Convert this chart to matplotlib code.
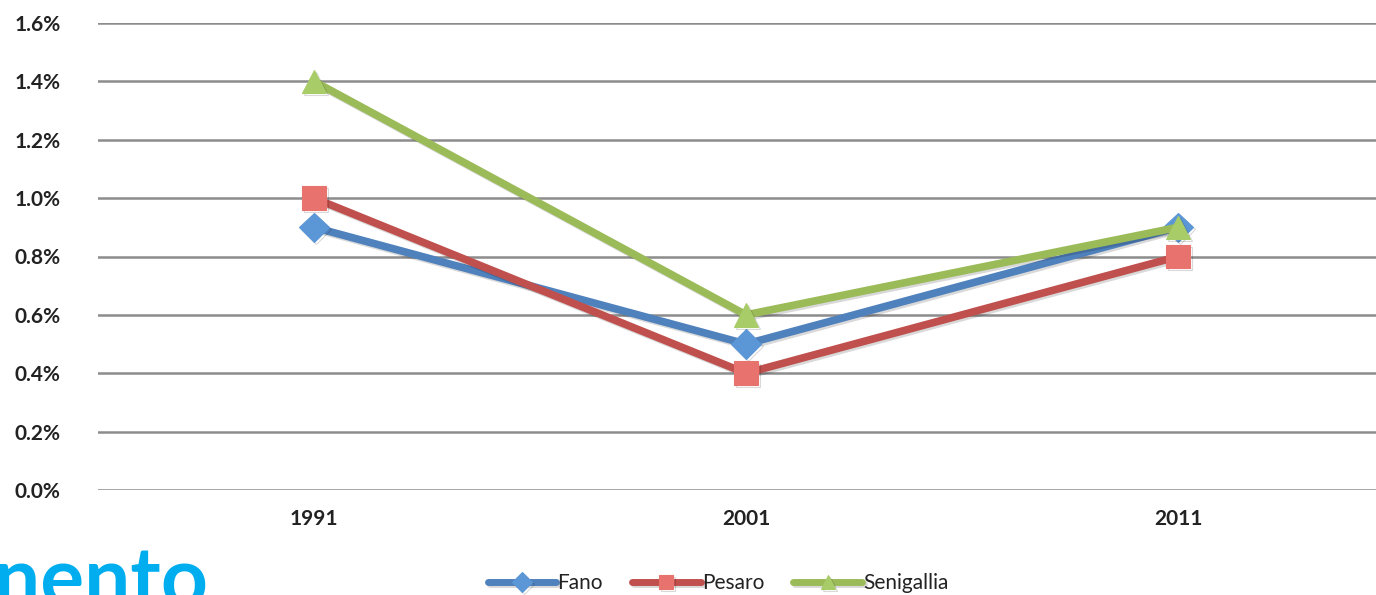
import matplotlib
matplotlib.use("Agg")
import matplotlib.pyplot as plt
import matplotlib.patheffects as pe
from matplotlib.ticker import FuncFormatter

years = ["1991", "2001", "2011"]
fano = [0.9, 0.5, 0.9]
pesaro = [1.0, 0.4, 0.8]
senigallia = [1.4, 0.6, 0.9]
yticks = [0.0, 0.2, 0.4, 0.6, 0.8, 1.0, 1.2, 1.4, 1.6]

plt.rcParams['font.family'] = ['Lato', 'DejaVu Sans']

fig = plt.figure(figsize=(13.76, 5.95), dpi=100)
ax = fig.add_axes([98/1376, 105/595, 1296/1376, 467/595])

x = list(range(len(years)))
series = [
    ("Fano", fano, "#4F81BD", "#5B97D6", "D", 15),
    ("Pesaro", pesaro, "#C0504D", "#E8726D", "s", 17),
    ("Senigallia", senigallia, "#9BBB59", "#A8CC68", "^", 17),
]
shadow = [pe.SimpleLineShadow(offset=(1.5, -1.5), shadow_color="#000000", alpha=0.15), pe.Normal()]
for name, vals, lc, mc, mk, ms in series:
    ax.plot(x, vals, color=lc, linewidth=5.5, marker=mk, markersize=ms,
            markerfacecolor=mc, markeredgecolor=mc, markeredgewidth=0.8,
            label=name, solid_capstyle="round", path_effects=shadow, zorder=3)

ax.set_xlim(-0.5, 2.5)
ax.set_ylim(0, 1.6)
ax.set_yticks(yticks)
ax.yaxis.set_major_formatter(FuncFormatter(lambda v, p: f"{v:.1f}%"))
ax.set_xticks(x)
ax.set_xticklabels(years)
ax.grid(axis="y", color="#8C8C8C", linewidth=1.8, zorder=1)
ax.set_axisbelow(True)
for s in ax.spines.values():
    s.set_visible(False)
ax.tick_params(axis="both", length=0, labelsize=15, colors="#222222")
ax.tick_params(axis="y", pad=27)
ax.tick_params(axis="x", pad=14)
for lbl in ax.get_yticklabels() + ax.get_xticklabels():
    lbl.set_fontweight("bold")

leg = fig.legend(loc="center", bbox_to_anchor=(718/1376, 12/595), ncol=3,
                 frameon=False, fontsize=15, handlelength=3.3, handletextpad=0.05,
                 columnspacing=1.4, borderaxespad=0)
for t in leg.get_texts():
    t.set_color("#222222")
for h in leg.legend_handles:
    h.set_markersize(10)
    h.set_linewidth(5)

fig.text(-0.004, -0.02, "nento", color="#00AEEF", fontsize=59,
         fontweight="bold", family=["Lato", "DejaVu Sans"], ha="left", va="baseline")

fig.savefig("out.png", dpi=100)
